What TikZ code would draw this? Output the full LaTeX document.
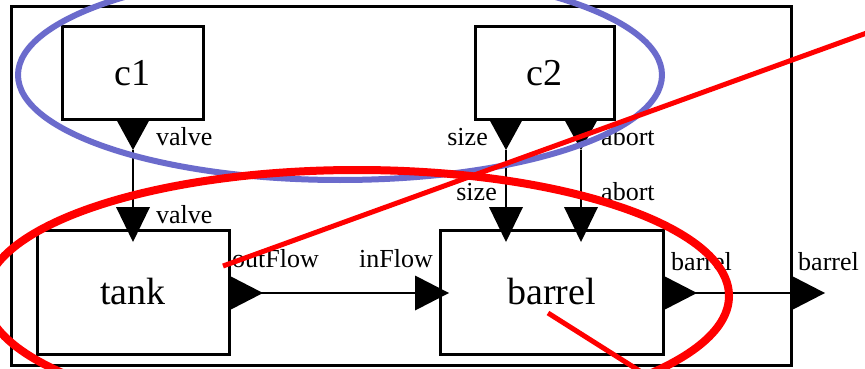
\documentclass[tikz,border=0pt]{standalone}
\usepackage{fontspec}
\setmainfont{Liberation Serif}
\usetikzlibrary{calc}
\definecolor{markblue}{HTML}{6B6BCC}
\definecolor{markred}{HTML}{FF0000}
\begin{document}
\begin{tikzpicture}[x=1pt,y=-1pt,
  block/.style={draw=black, line width=3pt, fill=white, inner sep=0pt, font=\fontsize{38}{42}\selectfont},
  wire/.style={draw=black, line width=2.8pt},
  plabel/.style={inner sep=0pt, font=\fontsize{26}{29}\selectfont},
  portdown/.pic={\fill[black] (-17,0) -- (17,0) -- (0,31) -- cycle;},
  portin/.pic={\fill[black] (-17,0) -- (17,0) -- (0,35) -- cycle;},
  portright/.pic={\fill[black] (0,-17.5) -- (0,17.5) -- (34,0) -- cycle;},
  ring/.style={line width=#1},
]
\useasboundingbox (0,0) rectangle (865,369);
\clip (0,0) rectangle (865,369);
\fill[white] (0,0) rectangle (865,369);

% enclosing system
\node[draw=black, line width=3pt, inner sep=0pt, minimum width=780pt, minimum height=358pt] (sys) at (401,186) {};

% components
\node[block, minimum width=141pt, minimum height=92pt] (c1) at (132.5,73) {c1};
\node[block, minimum width=139pt, minimum height=92pt] (c2) at (544.5,73) {c2};
\node[block, minimum width=192pt, minimum height=124pt] (tank) at (133,292) {tank};
\node[block, minimum width=223pt, minimum height=124pt] (barrel) at (551.5,292) {barrel};

% port positions
\coordinate (c1valve) at (133,119);
\coordinate (c2size) at (506,119);
\coordinate (c2abort) at (581,119);
\coordinate (tankvalve) at (133,207);
\coordinate (barrelsize) at (506,207);
\coordinate (barrelabort) at (581,207);
\coordinate (tankout) at (229,293);
\coordinate (barrelin) at (415,293);
\coordinate (barrelout) at (663,293);
\coordinate (sysout) at (791,293);

% connectors
\draw[wire] ($(c1valve)+(0,31)$) -- (tankvalve);
\draw[wire] ($(c2size)+(0,31)$) -- (barrelsize);
\draw[wire] ($(c2abort)+(0,31)$) -- (barrelabort);
\draw[wire] ($(tankout)+(31,0)$) -- (barrelin);
\draw[wire] ($(barrelout)+(31,0)$) -- (sysout);

% port triangles
\pic at (c1valve) {portdown};
\pic at (c2size) {portdown};
\pic at (c2abort) {portdown};
\pic at (tankvalve) {portin};
\pic at (barrelsize) {portin};
\pic at (barrelabort) {portin};
\pic at (tankout) {portright};
\pic at (barrelin) {portright};
\pic at (barrelout) {portright};
\pic at (sysout) {portright};

% port labels
\node[plabel, anchor=base west] (l1) at (156,145) {valve};
\node[plabel, anchor=base west] (l2) at (156,223) {valve};
\node[plabel, anchor=base east] (l3) at (488,145) {size};
\node[plabel, anchor=base west] (l4) at (601,145) {abort};
\node[plabel, anchor=base east] (l5) at (497,200) {size};
\node[plabel, anchor=base west] (l6) at (601,200) {abort};
\node[plabel, anchor=base west] (l7) at (232,267) {outFlow};
\node[plabel, anchor=base east] (l8) at (433,267) {inFlow};
\node[plabel, anchor=base west] (l9) at (671,270) {barrel};
\node[plabel, anchor=base west] (l10) at (798,270) {barrel};

% hand-drawn markings
\draw[markblue, ring=6pt] (340,75) ellipse [x radius=322pt, y radius=105pt];
\draw[markred, ring=8pt] (357,296) ellipse [x radius=372pt, y radius=126pt];
\draw[markred, line width=5pt] (223,266) -- (875,30);
\draw[markred, line width=5pt] (548,313) -- (665,387);
\end{tikzpicture}
\end{document}
